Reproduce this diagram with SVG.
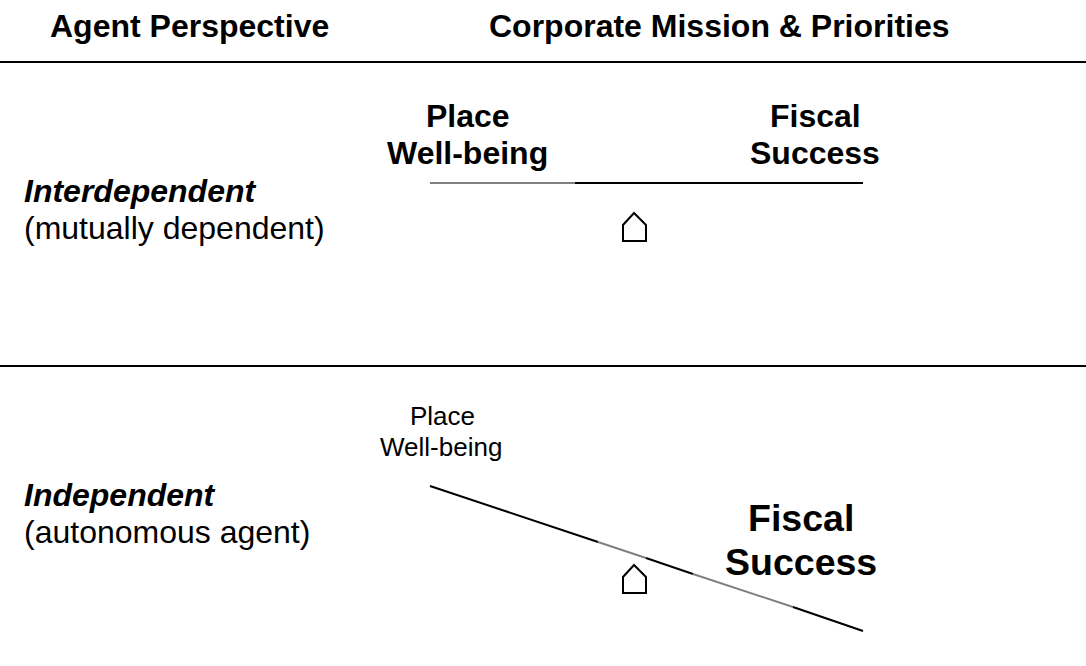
<svg xmlns="http://www.w3.org/2000/svg" width="1086" height="666" viewBox="0 0 1086 666">
<style>
text{font-family:"Liberation Sans",Arial,sans-serif;fill:#000}
.h{font-size:32px;font-weight:bold}
.b{font-size:32px;font-weight:bold}
.n{font-size:32px}
.s{font-size:26px}
.l{font-size:37.5px;font-weight:bold}
.i{font-size:32px;font-weight:bold;font-style:italic}
.r{stroke:#000;stroke-width:2;fill:none}
.t{stroke:#000;stroke-width:2;fill:none}
.g{stroke:#808080;stroke-width:2;fill:none}
.p{stroke:#000;stroke-width:2;fill:#fff}
</style>
<rect width="1086" height="666" fill="#fff"/>
<g id="connectors">
<line class="r" x1="0" y1="62" x2="1086" y2="62"/>
<line class="r" x1="0" y1="366" x2="1086" y2="366"/>
<line class="g" x1="430" y1="183" x2="575" y2="183"/>
<line class="t" x1="575" y1="183" x2="863" y2="183"/>
<line class="t" x1="430" y1="486" x2="598" y2="542"/>
<line class="g" x1="598" y1="542" x2="646" y2="558"/>
<line class="t" x1="646" y1="558" x2="693" y2="574"/>
<line class="g" x1="693" y1="574" x2="793" y2="607"/>
<line class="t" x1="793" y1="607" x2="863" y2="631"/>
</g>
<g id="header-agent"><text class="h" x="50" y="37">Agent Perspective</text></g>
<g id="header-mission"><text class="h" x="489" y="37">Corporate Mission &amp; Priorities</text></g>
<g id="place-top"><text class="b" x="426" y="127">Place</text><text class="b" x="387" y="164">Well-being</text></g>
<g id="fiscal-top"><text class="b" x="770" y="127">Fiscal</text><text class="b" x="750" y="164">Success</text></g>
<g id="interdependent"><text class="i" x="24" y="202">Interdependent</text><text class="n" x="24" y="239">(mutually dependent)</text></g>
<g id="independent"><text class="i" x="24" y="506">Independent</text><text class="n" x="24" y="543">(autonomous agent)</text></g>
<g id="place-bottom"><text class="s" x="410" y="425">Place</text><text class="s" x="380" y="456">Well-being</text></g>
<g id="fiscal-bottom"><text class="l" x="748" y="531">Fiscal</text><text class="l" x="725" y="575">Success</text></g>
<g id="fulcrum-top"><path class="p" d="M623 241V225L634 213L646 225V241Z"/></g>
<g id="fulcrum-bottom"><path class="p" d="M623 593V577L634 565L646 577V593Z"/></g>
</svg>
